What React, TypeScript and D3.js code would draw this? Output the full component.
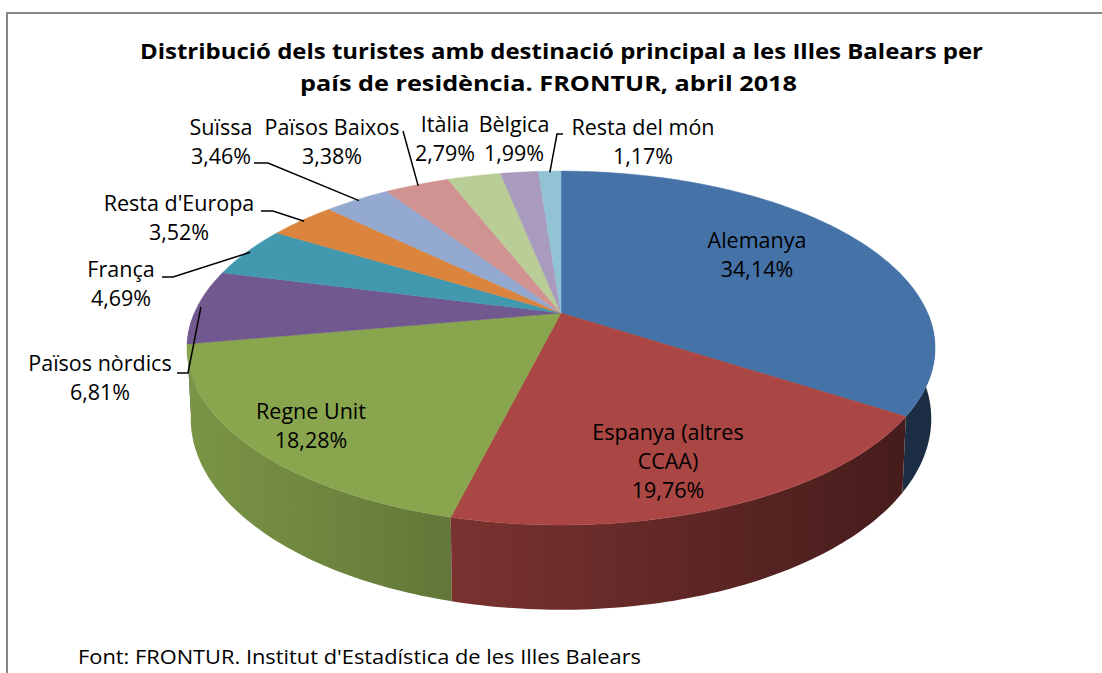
import * as d3 from "d3";

// dades: FRONTUR, abril 2018
const countries = [
  "Alemanya",
  "Espanya (altres CCAA)",
  "Regne Unit",
  "Països nòrdics",
  "França",
  "Resta d'Europa",
  "Suïssa",
  "Països Baixos",
  "Itàlia",
  "Bèlgica",
  "Resta del món",
];
const shares = [34.14, 19.76, 18.28, 6.81, 4.69, 3.52, 3.46, 3.38, 2.79, 1.99, 1.17];
const colors = [
  "#4572a7", "#aa4643", "#89a54e", "#71588f", "#4198af", "#db843d",
  "#93a9cf", "#d19392", "#b9cd96", "#a99bbd", "#92c3d4",
];
const labelLines = [
  ["Alemanya"],
  ["Espanya (altres", "CCAA)"],
  ["Regne Unit"],
  ["Països nòrdics"],
  ["França"],
  ["Resta d'Europa"],
  ["Suïssa"],
  ["Països Baixos"],
  ["Itàlia"],
  ["Bèlgica"],
  ["Resta del món"],
];

const titleLines = [
  "Distribució dels turistes amb destinació principal a les Illes Balears per",
  "país de residència. FRONTUR, abril 2018",
];
const sourceText = "Font: FRONTUR. Institut d'Estadística de les Illes Balears";

// label placement (annotation layout, like Excel's hand-moved labels)
const labelPos: { x: number; y: number; lead?: number[][] }[] = [
  { x: 757, y: 248 },
  { x: 668, y: 440 },
  { x: 311, y: 419 },
  { x: 100, y: 371, lead: [[177, 373], [188, 373]] },
  { x: 121, y: 277, lead: [[162, 277], [173, 277]] },
  { x: 179, y: 211, lead: [[261, 211], [273, 211]] },
  { x: 221, y: 135, lead: [[254, 163], [268, 163]] },
  { x: 332, y: 135, lead: [[403, 131]] },
  { x: 445, y: 132 },
  { x: 514, y: 132 },
  { x: 643, y: 135, lead: [[563, 134], [557, 134]] },
];

const width = 1102;
const height = 673;
const lineH = 29;

// 3d pie projection
const cx = 561;
const cy = 313;
const A = 366.6;
const B = 170;
const k = 0.198;
const depth = 68;
const conv = 0.01;

const project = (theta: number, r: number, h: number): [number, number] => {
  const X = r * Math.sin(theta);
  const Z = -r * Math.cos(theta);
  const w = 1 - k * Z;
  return [cx + ((A * X) / w) * (1 - conv * h), cy + (B * Z) / w + (h * depth) / w];
};

const fmt = (v: number) => v.toFixed(2).replace(".", ",") + "%";

const arcPoints = (a0: number, a1: number, h: number) => {
  const n = Math.max(2, Math.ceil(((a1 - a0) * 180) / Math.PI));
  return d3.range(n + 1).map((i) => project(a0 + ((a1 - a0) * i) / n, 1, h));
};

const shade = (c: string, f: number) => {
  const rgb = d3.rgb(c);
  return d3.rgb(rgb.r * f, rgb.g * f, rgb.b * f).formatHex();
};

const App = () => {
  const arcs = d3
    .pie<number>()
    .sort(null)
    .value((d) => d)
    .startAngle(0)
    .endAngle(2 * Math.PI)(shares);

  const line = d3.line();

  const sides = arcs
    .map((a, i) => {
      const a0 = Math.max(a.startAngle, Math.PI / 2);
      const a1 = Math.min(a.endAngle, (3 * Math.PI) / 2);
      if (a1 <= a0) return null;
      const top = arcPoints(a0, a1, 0);
      const bottom = arcPoints(a0, a1, 1).reverse();
      const mid = (a0 + a1) / 2;
      return { i, z: -Math.cos(mid), d: line([...top, ...bottom]) + "Z" };
    })
    .filter((s) => s !== null)
    .sort((a, b) => a!.z - b!.z);

  return (
    <svg
      width={width}
      height={height}
      style={{ position: "absolute", left: 0, top: 0, background: "#fff" }}
      fontFamily="'Open Sans', 'Noto Sans', sans-serif"
    >
      <defs>
        {colors.map((c, i) => (
          <linearGradient
            key={i}
            id={`side-${i}`}
            gradientUnits="userSpaceOnUse"
            x1={cx - A * 1.02}
            x2={cx + A * 1.02}
            y1={0}
            y2={0}
          >
            <stop offset="0" stopColor={shade(c, 0.9)} />
            <stop offset="1" stopColor={shade(c, 0.39)} />
          </linearGradient>
        ))}
      </defs>

      <path d="M7,680 L7,13 L1110,13" fill="none" stroke="#868686" strokeWidth={2} />

      {titleLines.map((t, i) => (
        <text
          key={i}
          x={i === 0 ? 140 : 300}
          y={59 + i * 32}
          fontSize={21}
          fontWeight="bold"
          textLength={i === 0 ? 843 : 497}
          lengthAdjust="spacingAndGlyphs"
        >
          {t}
        </text>
      ))}

      {/* side walls */}
      {sides.map((s) => (
        <path key={`s${s!.i}`} d={s!.d} fill={`url(#side-${s!.i})`} />
      ))}

      {/* top faces */}
      {arcs.map((a, i) => (
        <path
          key={`t${i}`}
          d={line([[cx, cy], ...arcPoints(a.startAngle, a.endAngle, 0)]) + "Z"}
          fill={colors[i]}
          stroke={colors[i]}
          strokeWidth={0.5}
        />
      ))}

      {/* leader lines */}
      {arcs.map((a, i) => {
        const lp = labelPos[i];
        if (!lp.lead) return null;
        const end = project((a.startAngle + a.endAngle) / 2, 0.99, 0);
        return (
          <path
            key={`l${i}`}
            d={line([...(lp.lead as [number, number][]), end])!}
            fill="none"
            stroke="#000"
            strokeWidth={1.5}
          />
        );
      })}

      {/* labels */}
      {arcs.map((a, i) => {
        const lp = labelPos[i];
        const lines = [...labelLines[i], fmt(shares[i])];
        return (
          <text key={`x${i}`} textAnchor="middle" fontSize={21.5} fill="#000">
            {lines.map((t, j) => (
              <tspan key={j} x={lp.x} y={lp.y + j * lineH}>
                {t}
              </tspan>
            ))}
          </text>
        );
      })}

      <text x={78} y={664} fontSize={20} textLength={563} lengthAdjust="spacingAndGlyphs">
        {sourceText}
      </text>
    </svg>
  );
};

export default App;
